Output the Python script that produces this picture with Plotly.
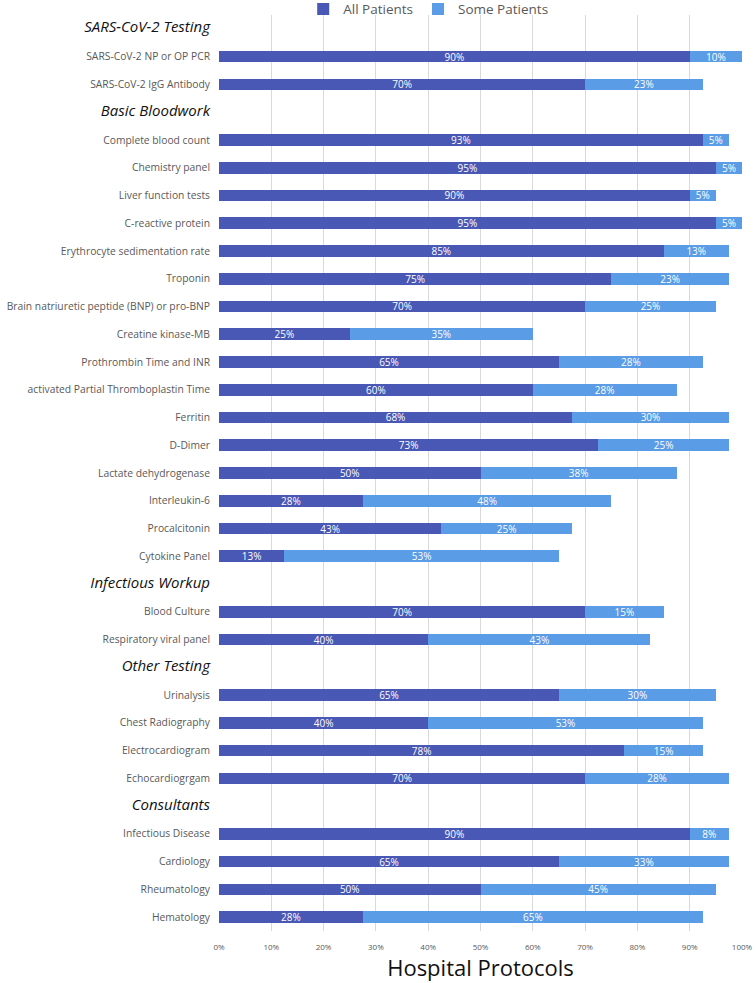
import plotly.graph_objects as go

categories = [
    "H:SARS-CoV-2 Testing",
    "SARS-CoV-2 NP or OP PCR",
    "SARS-CoV-2 IgG Antibody",
    "H:Basic Bloodwork",
    "Complete blood count",
    "Chemistry panel",
    "Liver function tests",
    "C-reactive protein",
    "Erythrocyte sedimentation rate",
    "Troponin",
    "Brain natriuretic peptide (BNP) or pro-BNP",
    "Creatine kinase-MB",
    "Prothrombin Time and INR",
    "activated Partial Thromboplastin Time",
    "Ferritin",
    "D-Dimer",
    "Lactate dehydrogenase",
    "Interleukin-6",
    "Procalcitonin",
    "Cytokine Panel",
    "H:Infectious Workup",
    "Blood Culture",
    "Respiratory viral panel",
    "H:Other Testing",
    "Urinalysis",
    "Chest Radiography",
    "Electrocardiogram",
    "Echocardiogrgam",
    "H:Consultants",
    "Infectious Disease",
    "Cardiology",
    "Rheumatology",
    "Hematology",
]

all_patients = [
    None, 90, 70,
    None, 92.5, 95, 90, 95, 85, 75, 70, 25, 65, 60, 67.5, 72.5, 50, 27.5, 42.5, 12.5,
    None, 70, 40,
    None, 65, 40, 77.5, 70,
    None, 90, 65, 50, 27.5,
]
some_patients = [
    None, 10, 22.5,
    None, 5, 5, 5, 5, 12.5, 22.5, 25, 35, 27.5, 27.5, 30, 25, 37.5, 47.5, 25, 52.5,
    None, 15, 42.5,
    None, 30, 52.5, 15, 27.5,
    None, 7.5, 32.5, 45, 65,
]

x_ticks = [0, 10, 20, 30, 40, 50, 60, 70, 80, 90, 100]
x_tick_labels = [f"{v}%" for v in x_ticks]

def tick_text(c):
    if c.startswith("H:"):
        return f"<i><span style='font-size:15px;color:#111111'>{c[2:]}</span></i>"
    return c

ticktext = [tick_text(c) for c in categories]

def fmt(v):
    if v is None:
        return ""
    return f"{int(v + 0.5)}%"

fig = go.Figure()
fig.add_trace(go.Bar(
    y=categories, x=all_patients, orientation="h", name="All Patients",
    marker=dict(color="#4957B5", line=dict(width=0)),
    text=[fmt(v) for v in all_patients], textposition="inside",
    insidetextanchor="middle", textangle=0,
    textfont=dict(color="white", size=10, family="Open Sans"),
))
fig.add_trace(go.Bar(
    y=categories, x=some_patients, orientation="h", name="Some Patients",
    marker=dict(color="#5B9CE6", line=dict(width=0)),
    text=[fmt(v) for v in some_patients], textposition="inside",
    insidetextanchor="middle", textangle=0,
    textfont=dict(color="white", size=10, family="Open Sans"),
))

fig.update_layout(
    barmode="stack",
    bargap=0.58,
    width=756, height=983,
    margin=dict(l=219, r=14, t=15, b=52, autoexpand=False),
    paper_bgcolor="white", plot_bgcolor="white",
    font=dict(family="Open Sans", color="#595959", size=10),
    uniformtext=dict(minsize=8, mode="show"),
    legend=dict(
        orientation="h", x=0.40, xanchor="center",
        yref="container", y=0.9905, yanchor="middle",
        font=dict(size=13.5, color="#595959"), traceorder="normal",
        itemwidth=30, tracegroupgap=0, bgcolor="rgba(0,0,0,0)",
    ),
    xaxis=dict(
        range=[0, 100], tickvals=x_ticks, ticktext=x_tick_labels,
        showgrid=True, gridcolor="#D9D9D9", gridwidth=1,
        zeroline=False, showline=False,
        tickfont=dict(size=8, color="#595959"),
        ticklabelstandoff=10,
        title=dict(text="Hospital Protocols", font=dict(size=22, color="#111111"), standoff=8),
        fixedrange=True, automargin=False,
    ),
    yaxis=dict(
        type="category", categoryorder="array", categoryarray=categories,
        autorange="reversed",
        tickvals=categories, ticktext=ticktext,
        tickfont=dict(size=10.3, color="#595959"),
        showgrid=False, zeroline=False, showline=False, ticks="",
        ticklabelstandoff=8, automargin=False,
    ),
)

fig.write_html(
    "out.html",
    config={"displayModeBar": False},
    post_script="document.body.style.margin='0';document.body.style.overflow='hidden';",
)
